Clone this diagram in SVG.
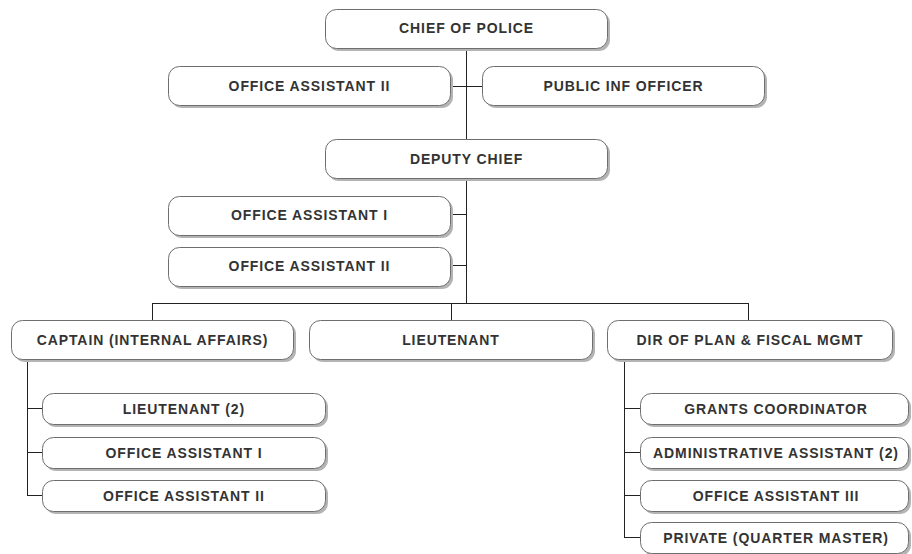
<svg xmlns="http://www.w3.org/2000/svg" width="912" height="554" viewBox="0 0 912 554">
  <style>
    .shadow { fill: #b4b4b4; }
    .box { fill: #ffffff; stroke: #6e6e6e; stroke-width: 1; }
    .label { font-family: "Liberation Sans", Arial, sans-serif; font-weight: bold; font-size: 14px; letter-spacing: 0.9px; fill: #333333; text-anchor: middle; }
    .wire { stroke: #222222; stroke-width: 1; fill: none; shape-rendering: crispEdges; }
  </style>
  <rect width="912" height="554" fill="#ffffff"/>

  <!-- reporting lines -->
  <g id="connectors">
    <path class="wire" d="M466.5 48 V139 M466.5 178 V303.5"/>
    <path class="wire" d="M450 86.5 H482"/>
    <path class="wire" d="M450 214.5 H466 M450 265.5 H466"/>
    <path class="wire" d="M152.5 303.5 H748.5 M152.5 303 V320 M451.5 303 V320 M748.5 303 V320"/>
    <path class="wire" d="M27.5 360 V495.5 M27 408.5 H42 M27 452.5 H42 M27 495.5 H42"/>
    <path class="wire" d="M624.5 360 V537.5 M624 408.5 H640 M624 452.5 H640 M624 495.5 H640 M624 537.5 H640"/>
  </g>

  <g id="chief">
    <rect class="shadow" x="328" y="12" width="282" height="39" rx="11"/>
    <rect class="box" x="325.5" y="9.5" width="282" height="39" rx="11"/>
    <text class="label" x="466.5" y="33">CHIEF OF POLICE</text>
  </g>
  <g id="office-assistant-ii-top">
    <rect class="shadow" x="171" y="69" width="282" height="39" rx="11"/>
    <rect class="box" x="168.5" y="66.5" width="282" height="39" rx="11"/>
    <text class="label" x="309.5" y="91">OFFICE ASSISTANT II</text>
  </g>
  <g id="public-inf-officer">
    <rect class="shadow" x="485" y="69" width="282" height="39" rx="11"/>
    <rect class="box" x="482.5" y="66.5" width="282" height="39" rx="11"/>
    <text class="label" x="623.5" y="91">PUBLIC INF OFFICER</text>
  </g>
  <g id="deputy-chief">
    <rect class="shadow" x="328" y="142" width="282" height="39" rx="11"/>
    <rect class="box" x="325.5" y="139.5" width="282" height="39" rx="11"/>
    <text class="label" x="466.5" y="164">DEPUTY CHIEF</text>
  </g>
  <g id="office-assistant-i-deputy">
    <rect class="shadow" x="171" y="199" width="282" height="39" rx="11"/>
    <rect class="box" x="168.5" y="196.5" width="282" height="39" rx="11"/>
    <text class="label" x="309.5" y="220">OFFICE ASSISTANT I</text>
  </g>
  <g id="office-assistant-ii-deputy">
    <rect class="shadow" x="171" y="250" width="282" height="39" rx="11"/>
    <rect class="box" x="168.5" y="247.5" width="282" height="39" rx="11"/>
    <text class="label" x="309.5" y="271">OFFICE ASSISTANT II</text>
  </g>
  <g id="captain">
    <rect class="shadow" x="14" y="323" width="282" height="39" rx="11"/>
    <rect class="box" x="11.5" y="320.5" width="282" height="39" rx="11"/>
    <text class="label" x="152.5" y="345">CAPTAIN (INTERNAL AFFAIRS)</text>
  </g>
  <g id="lieutenant">
    <rect class="shadow" x="312" y="323" width="283" height="39" rx="11"/>
    <rect class="box" x="309.5" y="320.5" width="283" height="39" rx="11"/>
    <text class="label" x="451" y="345">LIEUTENANT</text>
  </g>
  <g id="dir-plan-fiscal">
    <rect class="shadow" x="610" y="323" width="285" height="39" rx="11"/>
    <rect class="box" x="607.5" y="320.5" width="285" height="39" rx="11"/>
    <text class="label" x="750" y="345">DIR OF PLAN &amp; FISCAL MGMT</text>
  </g>

  <g id="captain-lieutenant-2">
    <rect class="shadow" x="45" y="396" width="283" height="31" rx="11"/>
    <rect class="box" x="42.5" y="393.5" width="283" height="31" rx="11"/>
    <text class="label" x="184" y="414">LIEUTENANT (2)</text>
  </g>
  <g id="captain-office-assistant-i">
    <rect class="shadow" x="45" y="440" width="283" height="31" rx="11"/>
    <rect class="box" x="42.5" y="437.5" width="283" height="31" rx="11"/>
    <text class="label" x="184" y="458">OFFICE ASSISTANT I</text>
  </g>
  <g id="captain-office-assistant-ii">
    <rect class="shadow" x="45" y="483" width="283" height="31" rx="11"/>
    <rect class="box" x="42.5" y="480.5" width="283" height="31" rx="11"/>
    <text class="label" x="184" y="501">OFFICE ASSISTANT II</text>
  </g>

  <g id="grants-coordinator">
    <rect class="shadow" x="643" y="396" width="268" height="31" rx="11"/>
    <rect class="box" x="640.5" y="393.5" width="268" height="31" rx="11"/>
    <text class="label" x="776" y="414">GRANTS COORDINATOR</text>
  </g>
  <g id="administrative-assistant-2">
    <rect class="shadow" x="643" y="440" width="268" height="31" rx="11"/>
    <rect class="box" x="640.5" y="437.5" width="268" height="31" rx="11"/>
    <text class="label" x="776" y="458">ADMINISTRATIVE ASSISTANT (2)</text>
  </g>
  <g id="office-assistant-iii">
    <rect class="shadow" x="643" y="483" width="268" height="31" rx="11"/>
    <rect class="box" x="640.5" y="480.5" width="268" height="31" rx="11"/>
    <text class="label" x="776" y="501">OFFICE ASSISTANT III</text>
  </g>
  <g id="private-quarter-master">
    <rect class="shadow" x="643" y="525" width="268" height="31" rx="11"/>
    <rect class="box" x="640.5" y="522.5" width="268" height="31" rx="11"/>
    <text class="label" x="776" y="543">PRIVATE (QUARTER MASTER)</text>
  </g>
</svg>
